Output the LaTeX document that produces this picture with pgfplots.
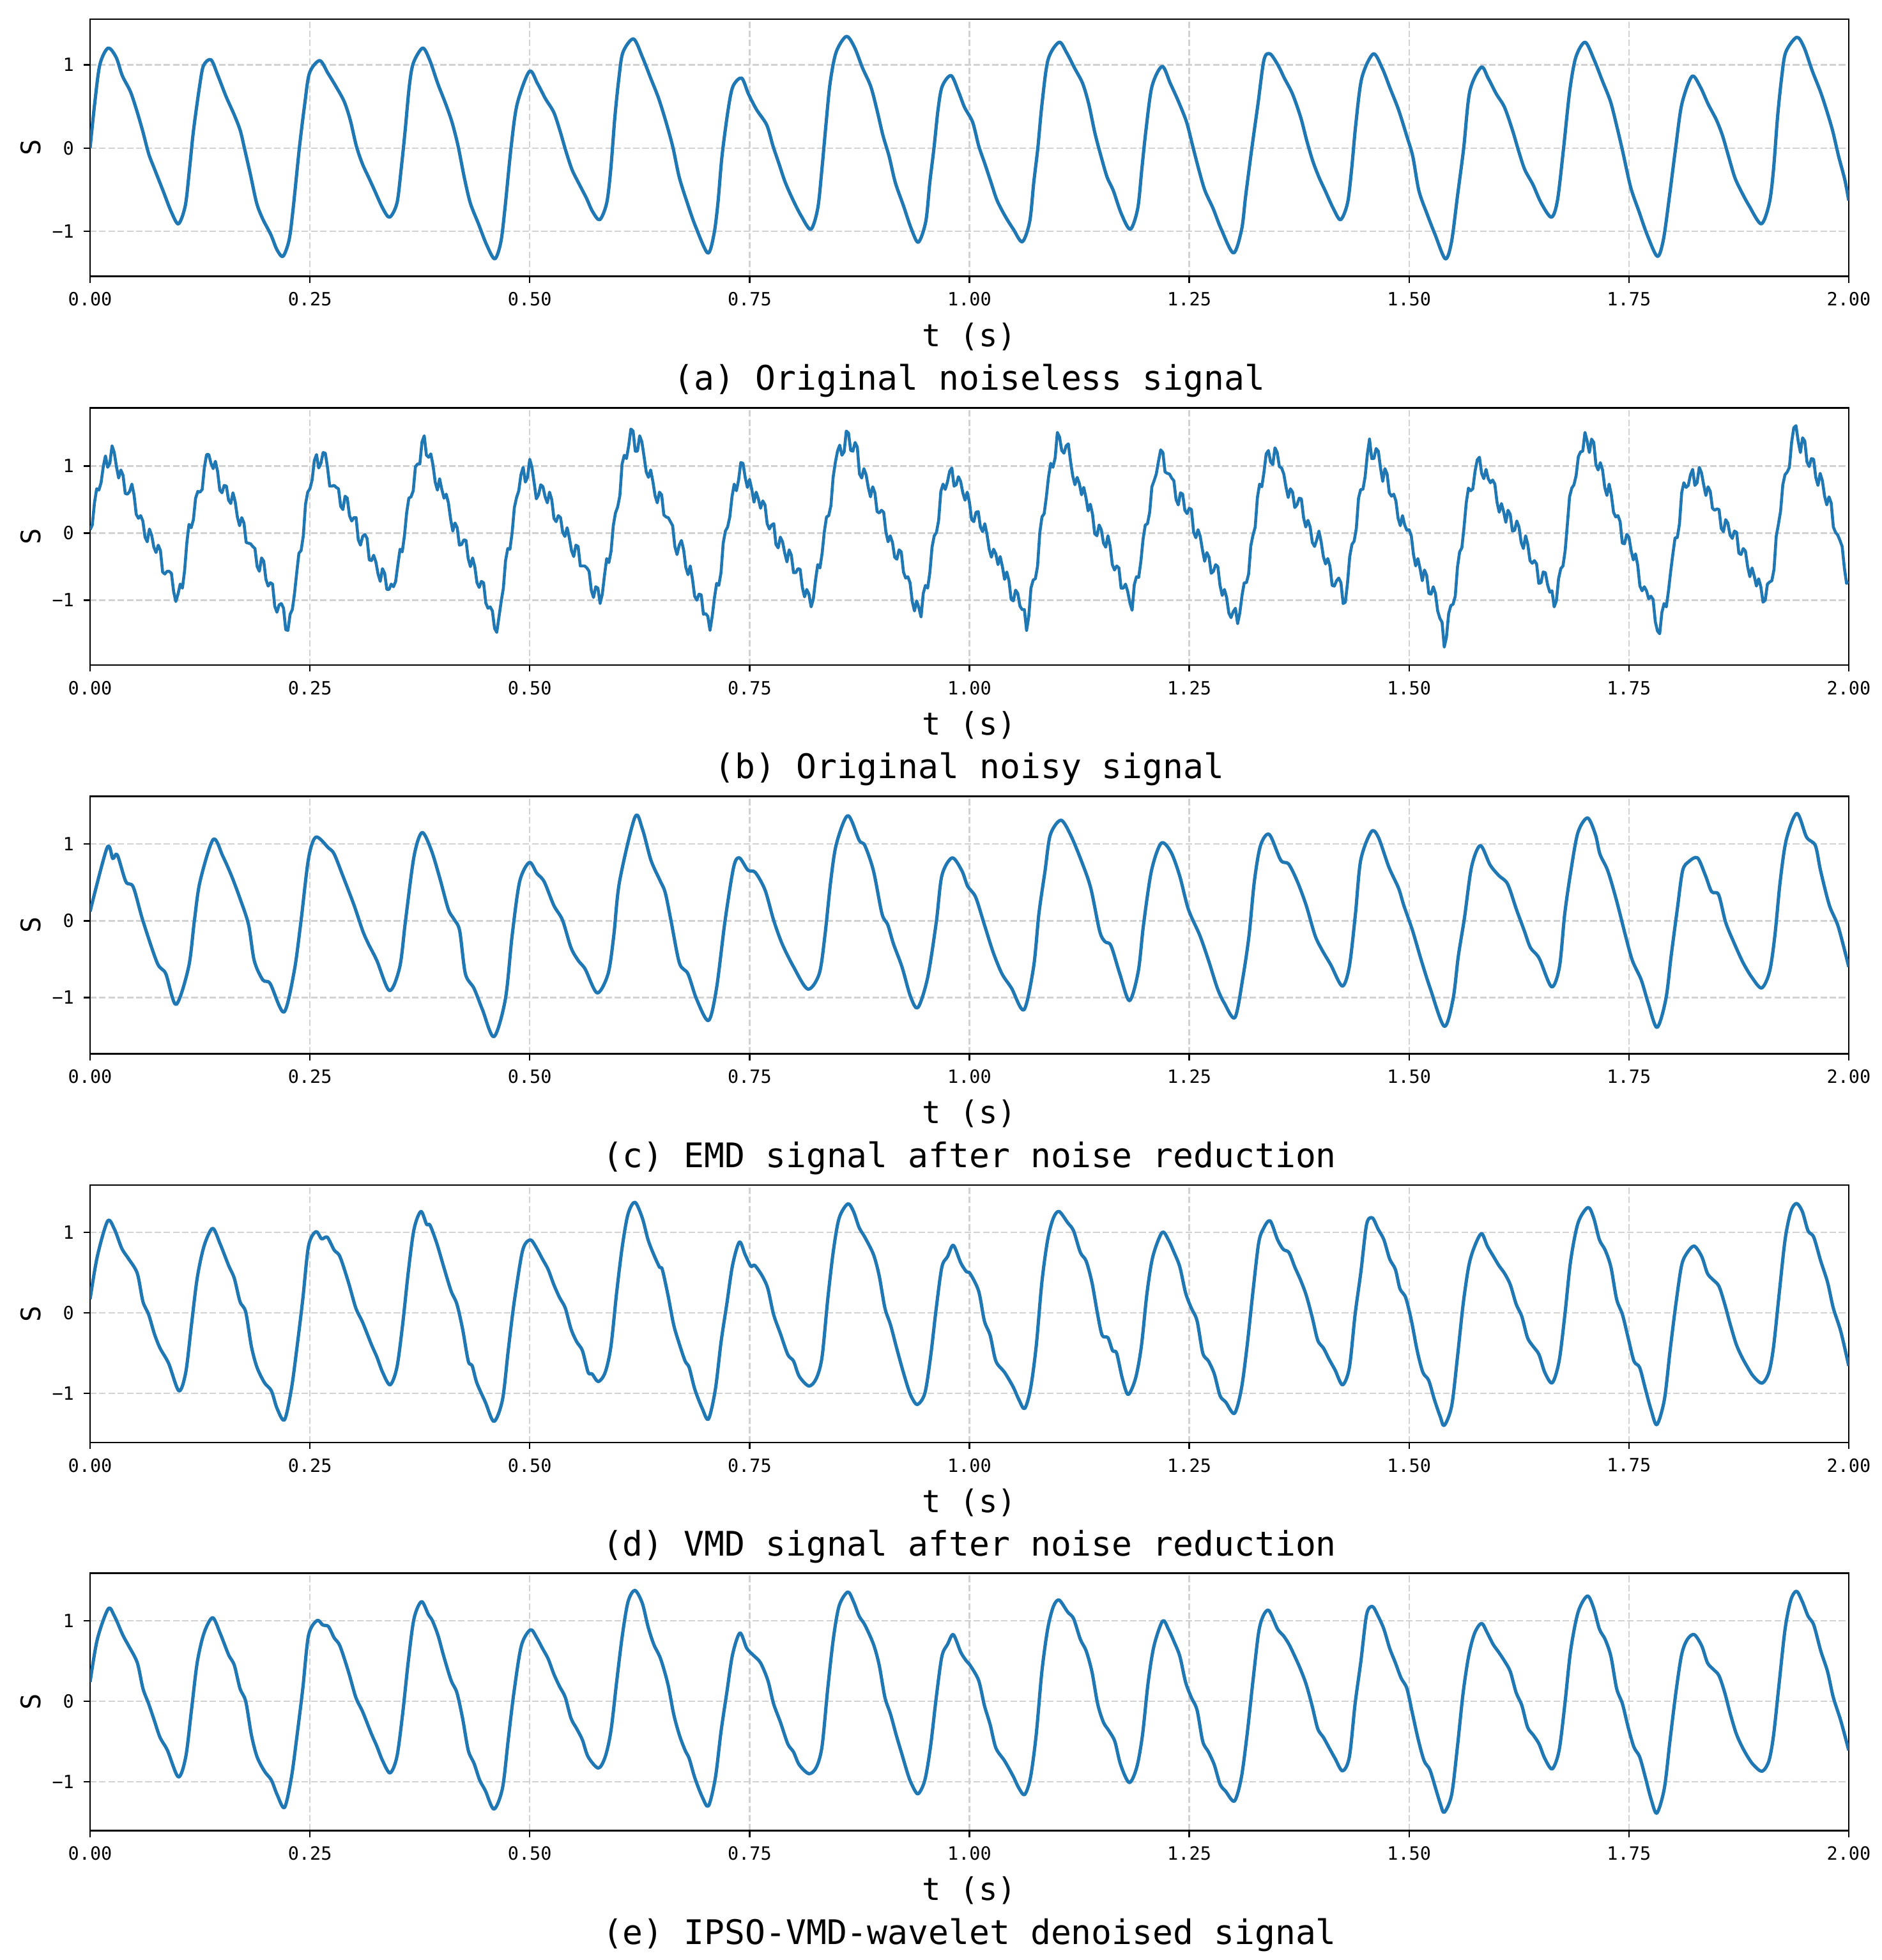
\documentclass[border=0pt]{standalone}
\usepackage{fontspec}
\setmainfont{DejaVu Sans Mono}
\usepackage{pgfplots}
\pgfplotsset{compat=1.18}
\definecolor{tabblue}{HTML}{1F77B4}
\newcommand\tickfont{\fontsize{10.5}{12}\selectfont}
\newcommand\labfont{\fontsize{18}{21}\selectfont}
\newcommand\capfont{\fontsize{19.5}{22}\selectfont}
\newcommand\ylabfont{\fontsize{15.5}{18}\selectfont}
\pgfplotsset{
  panel/.style={
    anchor=north west,
    scale only axis, width=1012.7pt, height=148.2pt,
    xmin=0, xmax=2,
    xtick={0,0.25,0.5,0.75,1,1.25,1.5,1.75,2},
    xticklabels={0.00,0.25,0.50,0.75,1.00,1.25,1.50,1.75,2.00},
    ytick={-1,0,1}, yticklabels={−1,0,1},
    tick align=outside, tick pos=left,
    major tick length=3.7pt,
    every tick/.style={black, line width=0.9pt},
    axis line style={line width=0.9pt},
    tick label style={font=\tickfont},
    xticklabel style={yshift=-2pt},
    yticklabel style={xshift=-2pt},
    grid=major,
    grid style={gray!35, line width=0.9pt, dash pattern=on 3.7pt off 1.6pt},
    clip mode=individual,
  },
  sig/.style={tabblue, line width=1.9pt, line join=round},
}
\newcommand\panellabels[1]{%
  \node[font=\labfont] at ([yshift=-34.6pt]rel axis cs:0.5,0) {t (s)};
  \node[font=\capfont] at ([yshift=-60pt]rel axis cs:0.5,0) {#1};
  \node[font=\ylabfont, rotate=90] at ([xshift=-34.2pt]rel axis cs:0,0.5) {S};
}
\begin{document}
\begin{tikzpicture}
\path[use as bounding box] (0,0) rectangle (1083.7pt,-1128.6pt);
% (a)
\begin{axis}[panel, at={(51.87pt,-10.96pt)}, ymin=-1.541, ymax=1.549]
\addplot[sig, smooth, tension=0.5] coordinates {
(0,0) (0.0051,0.52) (0.0111,1.0) (0.0204,1.2) (0.0296,1.09) (0.0366,0.87) (0.0458,0.68) (0.0528,0.46) (0.0597,0.21) (0.0667,-0.07) (0.0736,-0.26) (0.0829,-0.51) (0.0921,-0.76) (0.1005,-0.91)
(0.1083,-0.69) (0.113,-0.26) (0.1176,0.21) (0.1245,0.74) (0.129,0.99) (0.1375,1.06) (0.1454,0.87) (0.1546,0.62) (0.1639,0.4) (0.1708,0.21) (0.1755,0.0) (0.1824,-0.32) (0.1894,-0.66) (0.1963,-0.85) (0.2056,-1.04) (0.2125,-1.22) (0.2194,-1.30)
(0.2264,-1.1) (0.231,-0.72) (0.238,0) (0.244,0.52) (0.2495,0.9) (0.2611,1.05) (0.2704,0.9) (0.2796,0.74) (0.2889,0.56) (0.2958,0.34) (0.3028,0.025) (0.3097,-0.19) (0.3167,-0.35) (0.3236,-0.51) (0.3329,-0.725) (0.3407,-0.83)
(0.349,-0.66) (0.3537,-0.26) (0.3583,0.21) (0.363,0.74) (0.3676,1.02) (0.3782,1.2) (0.3861,1.06) (0.3954,0.775) (0.4046,0.525) (0.4116,0.31) (0.4185,0.025) (0.4255,-0.35) (0.4324,-0.66) (0.4417,-0.91) (0.4509,-1.16) (0.4602,-1.33)
(0.4671,-1.13) (0.4718,-0.725) (0.4787,0) (0.4856,0.525) (0.4995,0.92) (0.5088,0.775) (0.518,0.59) (0.5273,0.43) (0.5343,0.21) (0.5412,-0.04) (0.5481,-0.26) (0.5551,-0.41) (0.5644,-0.6) (0.5713,-0.76) (0.5796,-0.86)
(0.5875,-0.66) (0.5921,-0.26) (0.5968,0.37) (0.6014,0.84) (0.606,1.15) (0.618,1.31)
(0.6282,1.09) (0.6375,0.84) (0.6468,0.59) (0.656,0.275) (0.663,0) (0.67,-0.35) (0.6792,-0.66) (0.6885,-0.94) (0.7024,-1.26)
(0.7094,-1.04) (0.714,-0.66) (0.7186,-0.1) (0.7256,0.46) (0.7311,0.74) (0.7409,0.84) (0.7487,0.65) (0.758,0.46) (0.7696,0.275) (0.7766,0.025) (0.7835,-0.19) (0.7905,-0.41) (0.7997,-0.63) (0.809,-0.82) (0.8197,-0.975)
(0.8275,-0.725) (0.8322,-0.26) (0.8368,0.275) (0.8415,0.775) (0.8484,1.15) (0.86,1.34) (0.8693,1.21) (0.8785,0.96) (0.8878,0.74) (0.8948,0.46) (0.9017,0.15) (0.9087,-0.1) (0.9156,-0.41) (0.9249,-0.69) (0.9341,-0.975) (0.942,-1.13)
(0.9504,-0.88) (0.955,-0.41) (0.9597,0) (0.9643,0.46) (0.969,0.74) (0.9791,0.87) (0.9875,0.68) (0.9944,0.49) (1.0037,0.31) (1.0106,0.025) (1.0176,-0.19) (1.0245,-0.41) (1.0315,-0.63) (1.0408,-0.82) (1.05,-0.975) (1.0602,-1.125)
(1.0686,-0.88) (1.0732,-0.41) (1.0778,0) (1.0825,0.525) (1.0894,1.06) (1.1019,1.27) (1.1103,1.15) (1.1196,0.96) (1.1288,0.775) (1.1358,0.525) (1.1427,0.18) (1.1497,-0.1) (1.1566,-0.35) (1.1636,-0.51) (1.1728,-0.79) (1.183,-0.975)
(1.1914,-0.725) (1.196,-0.26) (1.2007,0.21) (1.2076,0.74) (1.2192,0.98) (1.2285,0.775) (1.2377,0.56) (1.247,0.31) (1.2539,0.025) (1.2609,-0.26) (1.2678,-0.51) (1.2771,-0.725) (1.2864,-0.975) (1.3003,-1.26)
(1.3096,-0.975) (1.3142,-0.57) (1.3212,0) (1.3281,0.525) (1.335,1.06)
(1.342,1.13) (1.3512,0.99) (1.3581,0.84) (1.3674,0.65) (1.3767,0.37) (1.3836,0.09) (1.3906,-0.16) (1.3975,-0.35) (1.4045,-0.51) (1.4138,-0.725) (1.4221,-0.86)
(1.43,-0.66) (1.4346,-0.26) (1.4393,0.275) (1.4462,0.84) (1.4592,1.13) (1.4694,0.96) (1.4787,0.71) (1.488,0.46) (1.4972,0.15) (1.5042,-0.1) (1.5111,-0.51) (1.5204,-0.79) (1.5296,-1.04) (1.5412,-1.33)
(1.5482,-1.13) (1.5551,-0.57) (1.5621,0) (1.569,0.68) (1.582,0.97) (1.5899,0.84) (1.5992,0.65) (1.6085,0.49) (1.6177,0.21) (1.6247,-0.04) (1.6316,-0.26) (1.6409,-0.44) (1.6502,-0.66) (1.6618,-0.83)
(1.6687,-0.63) (1.6757,0) (1.6826,0.68) (1.6896,1.09) (1.7002,1.27) (1.7104,1.06) (1.7197,0.81) (1.729,0.56) (1.7359,0.275) (1.7429,-0.04) (1.7521,-0.475) (1.7614,-0.76) (1.7707,-1.04) (1.7823,-1.30)
(1.7892,-1.1) (1.7962,-0.57) (1.8031,0) (1.8101,0.525) (1.8216,0.86) (1.8309,0.74) (1.8402,0.525) (1.8494,0.34) (1.8564,0.15) (1.8633,-0.1) (1.8703,-0.35) (1.8773,-0.51) (1.8865,-0.69) (1.9005,-0.91)
(1.9097,-0.66) (1.9144,-0.26) (1.919,0.37) (1.9236,0.84) (1.9283,1.15) (1.9408,1.33) (1.9491,1.21) (1.9584,0.93) (1.9677,0.68) (1.9746,0.46) (1.9816,0.21) (1.9885,-0.1) (1.9955,-0.38) (2.0,-0.63)
};
\panellabels{(a) Original noiseless signal}
\end{axis}
% (b)
\begin{axis}[panel, at={(51.87pt,-234.8pt)}, ymin=-1.968, ymax=1.867]
\addplot[sig, line width=1.7pt] coordinates {
(0.000,0.05) (0.0025,0.12) (0.005,0.45) (0.0075,0.66) (0.010,0.64) (0.0125,0.75) (0.015,0.99) (0.0175,1.15) (0.020,0.98) (0.0225,1.04) (0.025,1.30) (0.0275,1.20) (0.030,0.99) (0.0325,0.82) (0.035,0.94) (0.0375,0.86) (0.040,0.59) (0.0425,0.58) (0.045,0.62) (0.0475,0.73) (0.050,0.57) (0.0525,0.28) (0.055,0.22) (0.0575,0.26) (0.060,0.18) (0.0625,-0.06) (0.065,-0.13) (0.0675,0.06) (0.070,-0.03) (0.0725,-0.21) (0.075,-0.29) (0.0775,-0.18) (0.080,-0.26) (0.0825,-0.58) (0.085,-0.61) (0.0875,-0.57) (0.090,-0.57) (0.0925,-0.60) (0.095,-0.87) (0.0975,-1.02) (0.100,-0.91)
(0.1025,-0.76) (0.105,-0.82) (0.1075,-0.56) (0.110,-0.15) (0.1125,0.13) (0.115,0.08) (0.1175,0.20) (0.120,0.52) (0.1225,0.62) (0.125,0.61) (0.1275,0.65) (0.130,0.98) (0.1325,1.17) (0.135,1.17) (0.1375,1.04) (0.140,0.96)
(0.1425,1.07) (0.145,0.92) (0.1475,0.64) (0.150,0.60) (0.1525,0.71) (0.155,0.70) (0.1575,0.49) (0.160,0.44) (0.1625,0.60) (0.165,0.47) (0.1675,0.24) (0.170,0.11) (0.1725,0.23) (0.175,0.15) (0.1775,-0.14) (0.180,-0.15) (0.1825,-0.16) (0.185,-0.20) (0.1875,-0.23) (0.190,-0.50) (0.1925,-0.57) (0.195,-0.37) (0.1975,-0.42) (0.200,-0.69) (0.2025,-0.79) (0.205,-0.74) (0.2075,-0.76) (0.210,-1.09) (0.2125,-1.18) (0.215,-1.07) (0.2175,-1.05) (0.220,-1.12) (0.2225,-1.44) (0.225,-1.45)
(0.2275,-1.21) (0.230,-1.14) (0.2325,-0.90) (0.235,-0.59) (0.2375,-0.30) (0.240,-0.26) (0.2425,-0.04) (0.245,0.43) (0.2475,0.61) (0.250,0.66) (0.2525,0.79) (0.255,1.08) (0.2575,1.17) (0.260,0.97) (0.2625,1.04) (0.265,1.20)
(0.2675,1.19) (0.270,0.98) (0.2725,0.70) (0.275,0.70) (0.2775,0.71) (0.280,0.68) (0.2825,0.66) (0.285,0.40) (0.2875,0.35) (0.290,0.55) (0.2925,0.52) (0.295,0.26) (0.2975,0.18) (0.300,0.23) (0.3025,0.23) (0.305,-0.10) (0.3075,-0.18) (0.310,-0.05) (0.3125,-0.02) (0.315,-0.08) (0.3175,-0.40) (0.320,-0.41) (0.3225,-0.33) (0.325,-0.43) (0.3275,-0.61) (0.330,-0.72) (0.3325,-0.53) (0.335,-0.60) (0.3375,-0.84) (0.340,-0.84) (0.3425,-0.76) (0.345,-0.80)
(0.3475,-0.72) (0.350,-0.47) (0.3525,-0.24) (0.355,-0.28) (0.3575,-0.04) (0.360,0.30) (0.3625,0.52) (0.365,0.54) (0.3675,0.63) (0.370,0.99) (0.3725,1.03) (0.375,1.03) (0.3775,1.36) (0.380,1.45) (0.3825,1.16) (0.385,1.13)
(0.3875,1.18) (0.390,1.01) (0.3925,0.76) (0.395,0.64) (0.3975,0.81) (0.400,0.65) (0.4025,0.52) (0.405,0.58) (0.4075,0.45) (0.410,0.21) (0.4125,0.03) (0.415,0.15) (0.4175,0.08) (0.420,-0.18) (0.4225,-0.17) (0.425,-0.10) (0.4275,-0.11) (0.430,-0.38) (0.4325,-0.50) (0.435,-0.37) (0.4375,-0.50) (0.440,-0.74) (0.4425,-0.81) (0.445,-0.72) (0.4475,-0.74) (0.450,-1.04) (0.4525,-1.12) (0.455,-1.10) (0.4575,-1.16) (0.460,-1.42)
(0.4625,-1.48) (0.465,-1.25) (0.4675,-1.02) (0.470,-0.82) (0.4725,-0.41) (0.475,-0.23) (0.4775,-0.24) (0.480,0.01) (0.4825,0.38) (0.485,0.53) (0.4875,0.63) (0.490,0.87) (0.4925,0.98) (0.495,0.76) (0.4975,0.83) (0.500,1.10) (0.5025,0.98) (0.505,0.75)
(0.5075,0.51) (0.510,0.57) (0.5125,0.72) (0.515,0.69) (0.5175,0.54) (0.520,0.45) (0.5225,0.61) (0.525,0.50) (0.5275,0.22) (0.530,0.17) (0.5325,0.26) (0.535,0.23) (0.5375,0.01) (0.540,-0.05) (0.5425,0.08) (0.545,-0.07) (0.5475,-0.26) (0.550,-0.35) (0.5525,-0.18) (0.555,-0.20) (0.5575,-0.49) (0.560,-0.49) (0.5625,-0.49) (0.565,-0.52) (0.5675,-0.57) (0.570,-0.85) (0.5725,-0.96) (0.575,-0.80) (0.5775,-0.82) (0.580,-1.05)
(0.5825,-0.91) (0.585,-0.63) (0.5875,-0.38) (0.590,-0.44) (0.5925,-0.27) (0.595,0.11) (0.5975,0.30) (0.600,0.39) (0.6025,0.56) (0.605,1.03) (0.6075,1.16) (0.610,1.11) (0.6125,1.30) (0.615,1.55) (0.6175,1.52) (0.620,1.22) (0.6225,1.22) (0.625,1.45)
(0.6275,1.36) (0.630,1.14) (0.6325,0.91) (0.635,0.83) (0.6375,0.94) (0.640,0.77) (0.6425,0.56) (0.645,0.45) (0.6475,0.61) (0.650,0.57) (0.6525,0.27) (0.655,0.24) (0.6575,0.23) (0.660,0.17) (0.6625,0.11) (0.665,-0.20) (0.6675,-0.32) (0.670,-0.18) (0.6725,-0.11) (0.675,-0.25) (0.6775,-0.51) (0.680,-0.62) (0.6825,-0.49) (0.685,-0.68) (0.6875,-0.94) (0.690,-1.00) (0.6925,-0.91) (0.695,-0.92) (0.6975,-1.21) (0.700,-1.20) (0.7025,-1.24) (0.705,-1.45)
(0.7075,-1.24) (0.710,-0.97) (0.7125,-0.75) (0.715,-0.78) (0.7175,-0.59) (0.720,-0.15) (0.7225,0.03) (0.725,0.09) (0.7275,0.24) (0.730,0.54) (0.7325,0.73) (0.735,0.63) (0.7375,0.79) (0.740,1.05) (0.7425,1.04) (0.745,0.83)
(0.7475,0.68) (0.750,0.80) (0.7525,0.65) (0.755,0.46) (0.7575,0.61) (0.760,0.51) (0.7625,0.37) (0.765,0.48) (0.7675,0.42) (0.770,0.14) (0.7725,0.06) (0.775,0.12) (0.7775,0.14) (0.780,-0.17) (0.7825,-0.22) (0.785,-0.06) (0.7875,-0.13) (0.790,-0.30) (0.7925,-0.43) (0.795,-0.25) (0.7975,-0.33) (0.800,-0.59) (0.8025,-0.59) (0.805,-0.53) (0.8075,-0.54) (0.810,-0.81) (0.8125,-0.95) (0.815,-0.84) (0.8175,-0.91) (0.820,-1.10)
(0.8225,-0.98) (0.825,-0.70) (0.8275,-0.47) (0.830,-0.52) (0.8325,-0.30) (0.835,0.02) (0.8375,0.24) (0.840,0.26) (0.8425,0.41) (0.845,0.83) (0.8475,1.05) (0.850,1.22) (0.8525,1.31) (0.855,1.16) (0.8575,1.21) (0.860,1.52) (0.8625,1.49) (0.865,1.23) (0.8675,1.22) (0.870,1.35)
(0.8725,1.28) (0.875,0.88) (0.8775,0.82) (0.880,0.96) (0.8825,0.87) (0.885,0.68) (0.8875,0.54) (0.890,0.69) (0.8925,0.60) (0.895,0.32) (0.8975,0.30) (0.900,0.34) (0.9025,0.31) (0.905,0.02) (0.9075,-0.13) (0.910,-0.04) (0.9125,-0.14) (0.915,-0.36) (0.9175,-0.39) (0.920,-0.25) (0.9225,-0.28) (0.925,-0.58) (0.9275,-0.67) (0.930,-0.65) (0.9325,-0.74) (0.935,-1.02) (0.9375,-1.16) (0.940,-1.01) (0.9425,-1.11) (0.945,-1.25)
(0.9475,-0.90) (0.950,-0.78) (0.9525,-0.82) (0.955,-0.59) (0.9575,-0.21) (0.960,-0.04) (0.9625,0.01) (0.965,0.19) (0.9675,0.62) (0.970,0.73) (0.9725,0.65) (0.975,0.76) (0.9775,0.92) (0.980,0.97) (0.9825,0.70) (0.985,0.72)
(0.9875,0.84) (0.990,0.77) (0.9925,0.60) (0.995,0.49) (0.9975,0.61) (1.000,0.46) (1.0025,0.20) (1.005,0.17) (1.0075,0.31) (1.010,0.32) (1.0125,0.09) (1.015,0.02) (1.0175,0.14) (1.020,-0.02) (1.0225,-0.24) (1.025,-0.36) (1.0275,-0.24) (1.030,-0.31) (1.0325,-0.47) (1.035,-0.35) (1.0375,-0.50) (1.040,-0.69) (1.0425,-0.58) (1.045,-0.71) (1.0475,-0.99) (1.050,-1.01) (1.0525,-0.85) (1.055,-0.90) (1.0575,-1.09) (1.060,-1.14) (1.0625,-1.14) (1.065,-1.45)
(1.0675,-1.24) (1.070,-0.82) (1.0725,-0.70) (1.075,-0.68) (1.0775,-0.49) (1.080,0.00) (1.0825,0.24) (1.085,0.29) (1.0875,0.54) (1.090,0.84) (1.0925,1.04) (1.095,0.98) (1.0975,1.12) (1.100,1.50) (1.1025,1.43) (1.105,1.23) (1.1075,1.19) (1.110,1.30)
(1.1125,1.33) (1.115,1.07) (1.1175,0.85) (1.120,0.72) (1.1225,0.83) (1.125,0.74) (1.1275,0.57) (1.130,0.68) (1.1325,0.53) (1.135,0.33) (1.1375,0.43) (1.140,0.28) (1.1425,-0.01) (1.145,-0.04) (1.1475,0.12) (1.150,0.05) (1.1525,-0.15) (1.155,-0.21) (1.1575,-0.04) (1.160,-0.19) (1.1625,-0.47) (1.165,-0.55) (1.1675,-0.49) (1.170,-0.52) (1.1725,-0.82) (1.175,-0.82) (1.1775,-0.76) (1.180,-0.87) (1.1825,-1.04) (1.185,-1.15)
(1.1875,-0.77) (1.190,-0.65) (1.1925,-0.66) (1.195,-0.42) (1.1975,-0.09) (1.200,0.12) (1.2025,0.14) (1.205,0.31) (1.2075,0.69) (1.210,0.78) (1.2125,0.88) (1.215,1.07) (1.2175,1.24) (1.220,1.20) (1.2225,0.91) (1.225,0.89)
(1.2275,0.88) (1.230,0.82) (1.2325,0.78) (1.235,0.50) (1.2375,0.42) (1.240,0.60) (1.2425,0.58) (1.245,0.34) (1.2475,0.29) (1.250,0.37) (1.2525,0.35) (1.255,0.01) (1.2575,-0.07) (1.260,0.05) (1.2625,-0.05) (1.265,-0.25) (1.2675,-0.42) (1.270,-0.29) (1.2725,-0.36) (1.275,-0.60) (1.2775,-0.57) (1.280,-0.47) (1.2825,-0.50) (1.285,-0.78) (1.2875,-0.93) (1.290,-0.84) (1.2925,-0.96) (1.295,-1.19) (1.2975,-1.26) (1.300,-1.17) (1.3025,-1.12) (1.305,-1.35)
(1.3075,-1.19) (1.310,-0.93) (1.3125,-0.74) (1.315,-0.74) (1.3175,-0.61) (1.320,-0.19) (1.3225,-0.03) (1.325,0.09) (1.3275,0.53) (1.330,0.73) (1.3325,0.69) (1.335,0.91) (1.3375,1.18) (1.340,1.23) (1.3425,1.06) (1.345,1.02) (1.3475,1.27) (1.350,1.20)
(1.3525,0.99) (1.355,0.97) (1.3575,0.88) (1.360,0.69) (1.3625,0.53) (1.365,0.66) (1.3675,0.61) (1.370,0.38) (1.3725,0.42) (1.375,0.52) (1.3775,0.51) (1.380,0.23) (1.3825,0.09) (1.385,0.19) (1.3875,0.09) (1.390,-0.14) (1.3925,-0.20) (1.395,-0.10) (1.3975,0.03) (1.400,-0.13) (1.4025,-0.35) (1.405,-0.46) (1.4075,-0.38) (1.410,-0.49) (1.4125,-0.78) (1.415,-0.79) (1.4175,-0.71) (1.420,-0.67) (1.4225,-0.74) (1.425,-1.05)
(1.4275,-1.03) (1.430,-0.74) (1.4325,-0.35) (1.435,-0.17) (1.4375,-0.12) (1.440,0.07) (1.4425,0.52) (1.445,0.65) (1.4475,0.65) (1.450,0.84) (1.4525,1.17) (1.455,1.40) (1.4575,1.11) (1.460,1.11) (1.4625,1.26) (1.465,1.22)
(1.4675,0.97) (1.470,0.77) (1.4725,0.96) (1.475,0.88) (1.4775,0.60) (1.480,0.55) (1.4825,0.58) (1.485,0.48) (1.4875,0.22) (1.490,0.11) (1.4925,0.26) (1.495,0.12) (1.4975,0.04) (1.500,0.05) (1.5025,-0.04) (1.505,-0.32) (1.5075,-0.49) (1.510,-0.38) (1.5125,-0.53) (1.515,-0.71) (1.5175,-0.55) (1.520,-0.63) (1.5225,-0.90) (1.525,-0.91) (1.5275,-0.80) (1.530,-0.90) (1.5325,-1.16) (1.535,-1.27) (1.5375,-1.33) (1.540,-1.70) (1.5425,-1.55) (1.545,-1.20)
(1.5475,-1.08) (1.550,-1.06) (1.5525,-0.94) (1.555,-0.51) (1.5575,-0.28) (1.560,-0.22) (1.5625,0.09) (1.565,0.45) (1.5675,0.67) (1.570,0.63) (1.5725,0.66) (1.575,0.92) (1.5775,1.09) (1.580,1.13) (1.5825,0.89) (1.585,0.81)
(1.5875,0.95) (1.590,0.81) (1.5925,0.75) (1.595,0.79) (1.5975,0.73) (1.600,0.46) (1.6025,0.31) (1.605,0.44) (1.6075,0.32) (1.610,0.16) (1.6125,0.34) (1.615,0.28) (1.6175,0.03) (1.620,0.04) (1.6225,0.18) (1.625,0.09) (1.6275,-0.14) (1.630,-0.23) (1.6325,-0.04) (1.635,-0.17) (1.6375,-0.41) (1.640,-0.45) (1.6425,-0.41) (1.645,-0.46) (1.6475,-0.75) (1.650,-0.74) (1.6525,-0.58) (1.655,-0.59) (1.6575,-0.77) (1.660,-0.88) (1.6625,-0.86) (1.665,-1.10)
(1.6675,-1.01) (1.670,-0.68) (1.6725,-0.53) (1.675,-0.49) (1.6775,-0.26) (1.680,0.13) (1.6825,0.54) (1.685,0.67) (1.6875,0.72) (1.690,0.86) (1.6925,1.14) (1.695,1.21) (1.6975,1.22) (1.700,1.50) (1.7025,1.37) (1.705,1.20) (1.7075,1.40) (1.710,1.35)
(1.7125,1.02) (1.715,0.94) (1.7175,1.05) (1.720,0.94) (1.7225,0.68) (1.725,0.56) (1.7275,0.73) (1.730,0.57) (1.7325,0.31) (1.735,0.24) (1.7375,0.26) (1.740,0.17) (1.7425,-0.15) (1.745,-0.16) (1.7475,-0.02) (1.750,-0.06) (1.7525,-0.26) (1.755,-0.40) (1.7575,-0.31) (1.760,-0.48) (1.7625,-0.79) (1.765,-0.86) (1.7675,-0.80) (1.770,-0.86) (1.7725,-0.98) (1.775,-0.94) (1.7775,-0.99) (1.780,-1.32) (1.7825,-1.46) (1.785,-1.50)
(1.7875,-1.18) (1.790,-1.05) (1.7925,-1.10) (1.795,-0.86) (1.7975,-0.57) (1.800,-0.31) (1.8025,-0.07) (1.805,-0.07) (1.8075,0.14) (1.810,0.60) (1.8125,0.75) (1.815,0.68) (1.8175,0.71) (1.820,0.87) (1.8225,0.95) (1.825,0.71) (1.8275,0.75) (1.830,0.98)
(1.8325,0.90) (1.835,0.72) (1.8375,0.56) (1.840,0.69) (1.8425,0.62) (1.845,0.37) (1.8475,0.34) (1.850,0.36) (1.8525,0.35) (1.855,0.07) (1.8575,0.02) (1.860,0.20) (1.8625,0.15) (1.865,-0.03) (1.8675,-0.08) (1.870,0.03) (1.8725,0.01) (1.875,-0.30) (1.8775,-0.32) (1.880,-0.23) (1.8825,-0.27) (1.885,-0.50) (1.8875,-0.65) (1.890,-0.52) (1.8925,-0.64) (1.895,-0.79) (1.8975,-0.68) (1.900,-0.80) (1.9025,-1.03) (1.905,-1.00)
(1.9075,-0.76) (1.910,-0.73) (1.9125,-0.71) (1.915,-0.54) (1.9175,-0.05) (1.920,0.13) (1.9225,0.33) (1.925,0.72) (1.9275,0.87) (1.930,0.91) (1.9325,0.98) (1.935,1.35) (1.9375,1.57) (1.940,1.60) (1.9425,1.37) (1.945,1.20) (1.9475,1.42) (1.950,1.37)
(1.9525,1.06) (1.955,0.99) (1.9575,1.11) (1.960,1.10) (1.9625,0.83) (1.965,0.71) (1.9675,0.89) (1.970,0.78) (1.9725,0.55) (1.975,0.42) (1.9775,0.54) (1.980,0.45) (1.9825,0.09) (1.985,0.01) (1.9875,-0.03) (1.990,-0.11) (1.9925,-0.20) (1.995,-0.52) (1.9975,-0.75) (2.000,-0.72)
};
\panellabels{(b) Original noisy signal}
\end{axis}
% (c)
\begin{axis}[panel, at={(51.87pt,-458.6pt)}, ymin=-1.733, ymax=1.62]
\addplot[sig, smooth, tension=0.5] coordinates {
(0,0.12) (0.0193,0.95) (0.0258,0.81) (0.0309,0.86) (0.0407,0.51) (0.0491,0.44) (0.0601,0.0) (0.0764,-0.55) (0.0861,-0.69) (0.0978,-1.09)
(0.1121,-0.6) (0.1186,0) (0.125,0.51) (0.1400,1.06) (0.151,0.84) (0.1607,0.59) (0.1705,0.29) (0.1802,-0.05) (0.1867,-0.52) (0.1964,-0.77) (0.2049,-0.82) (0.2204,-1.19)
(0.2321,-0.66) (0.2399,0) (0.2484,0.81) (0.2568,1.09) (0.2711,0.95) (0.2776,0.87) (0.2873,0.59) (0.3003,0.2) (0.31,-0.13) (0.3165,-0.3) (0.3262,-0.52) (0.3405,-0.91)
(0.3522,-0.6) (0.3587,0) (0.3684,0.84) (0.3775,1.15) (0.3879,0.925) (0.3976,0.56) (0.4074,0.15) (0.4139,0.02) (0.4203,-0.13) (0.4268,-0.69) (0.4366,-0.88) (0.4463,-1.16) (0.4593,-1.51)
(0.4723,-1.02) (0.4800,-0.19) (0.4885,0.51) (0.4995,0.76) (0.508,0.62) (0.5164,0.51) (0.5274,0.2) (0.5372,0.01) (0.5469,-0.35) (0.5553,-0.52) (0.5631,-0.63) (0.5767,-0.94)
(0.5891,-0.69) (0.5956,-0.19) (0.6021,0.51) (0.6196,1.35) (0.628,1.2) (0.6378,0.79) (0.6475,0.54) (0.654,0.37) (0.6605,0.01) (0.6702,-0.55) (0.6799,-0.69) (0.6897,-1.02) (0.7033,-1.30)
(0.7124,-0.88) (0.7221,0) (0.7319,0.7) (0.7384,0.82) (0.7481,0.66) (0.7565,0.63) (0.7676,0.4) (0.7773,0.01) (0.787,-0.3) (0.8,-0.6) (0.8162,-0.89)
(0.8292,-0.69) (0.8357,-0.19) (0.8422,0.51) (0.8487,1.0) (0.8617,1.37) (0.8746,1.05) (0.8811,0.98) (0.8909,0.65) (0.9006,0.09) (0.9071,-0.05) (0.9136,-0.3) (0.9233,-0.6) (0.9331,-0.99) (0.9415,-1.13)
(0.9525,-0.74) (0.9623,-0.02) (0.9687,0.59) (0.9804,0.82) (0.9915,0.65) (0.998,0.45)
(1.007,0.31) (1.017,-0.05) (1.027,-0.41) (1.037,-0.69) (1.048,-0.88) (1.062,-1.16)
(1.073,-0.6) (1.079,0.09) (1.086,0.65) (1.092,1.12) (1.104,1.31) (1.115,1.12) (1.128,0.76) (1.138,0.425) (1.148,-0.13) (1.154,-0.27) (1.161,-0.325) (1.171,-0.69) (1.182,-1.04)
(1.192,-0.66) (1.198,-0.05) (1.207,0.65) (1.218,1.01) (1.229,0.9) (1.239,0.59) (1.249,0.15) (1.262,-0.19) (1.272,-0.52) (1.282,-0.88) (1.290,-1.075) (1.302,-1.26)
(1.311,-0.74) (1.318,-0.19) (1.324,0.51) (1.331,0.98) (1.341,1.125) (1.354,0.79) (1.363,0.74) (1.373,0.51) (1.383,0.2) (1.393,-0.19) (1.401,-0.38) (1.411,-0.575) (1.424,-0.85)
(1.432,-0.6) (1.439,0.09) (1.445,0.79) (1.457,1.16) (1.465,1.09) (1.477,0.7) (1.488,0.425) (1.494,0.2) (1.504,-0.13) (1.514,-0.52) (1.524,-0.88) (1.540,-1.375)
(1.550,-1.02) (1.556,-0.46) (1.563,0.04) (1.571,0.7) (1.581,0.98) (1.592,0.73) (1.602,0.59) (1.612,0.48) (1.622,0.15) (1.631,-0.13) (1.638,-0.35) (1.648,-0.49) (1.662,-0.86)
(1.671,-0.6) (1.677,0.09) (1.684,0.65) (1.692,1.15) (1.703,1.34) (1.712,1.12) (1.717,0.87) (1.726,0.65) (1.736,0.26) (1.746,-0.19) (1.754,-0.52) (1.764,-0.77) (1.772,-1.075) (1.782,-1.39)
(1.792,-1.02) (1.798,-0.46) (1.805,0.15) (1.811,0.65) (1.818,0.77) (1.828,0.82) (1.837,0.59) (1.844,0.38) (1.852,0.34) (1.860,-0.02) (1.870,-0.3) (1.880,-0.55) (1.890,-0.74) (1.901,-0.875)
(1.910,-0.66) (1.916,-0.19) (1.922,0.51) (1.929,1.06) (1.941,1.40) (1.952,1.09) (1.962,0.98) (1.968,0.65) (1.978,0.2) (1.988,-0.075) (2.0,-0.6)
};
\panellabels{(c) EMD signal after noise reduction}
\end{axis}
% (d)
\begin{axis}[panel, at={(51.87pt,-682.4pt)}, ymin=-1.612, ymax=1.588]
\addplot[sig, smooth, tension=0.5] coordinates {
(0,0.17) (0.0082,0.70) (0.0199,1.14) (0.0277,1.04) (0.0361,0.80) (0.0439,0.67) (0.0537,0.49) (0.0601,0.14) (0.0666,-0.02) (0.0731,-0.26) (0.0796,-0.44) (0.0894,-0.63) (0.101,-0.97)
(0.1088,-0.74) (0.1153,-0.15) (0.1218,0.43) (0.1296,0.83) (0.1393,1.05) (0.1478,0.86) (0.1575,0.59) (0.164,0.43) (0.1705,0.14) (0.177,0.01) (0.1835,-0.42) (0.1899,-0.68) (0.1984,-0.87) (0.2062,-0.97) (0.2127,-1.19) (0.2211,-1.33)
(0.2289,-0.95) (0.2354,-0.42) (0.2419,0.17) (0.2484,0.83) (0.2568,1.01) (0.2633,0.92) (0.2698,0.94) (0.2776,0.78) (0.2841,0.70) (0.2938,0.38) (0.3022,0.06) (0.31,-0.12) (0.3198,-0.39) (0.3262,-0.55) (0.3327,-0.74) (0.3412,-0.895)
(0.3489,-0.68) (0.3554,-0.15) (0.3619,0.51) (0.3684,1.04) (0.3762,1.26) (0.3827,1.10) (0.3866,1.09) (0.3944,0.86) (0.4022,0.57) (0.4106,0.27) (0.4171,0.11) (0.4236,-0.20) (0.4301,-0.60) (0.4346,-0.66) (0.4398,-0.87) (0.4495,-1.11) (0.4593,-1.35)
(0.469,-1.08) (0.4755,-0.47) (0.482,0.11) (0.4904,0.70) (0.495,0.86) (0.5015,0.905) (0.508,0.80) (0.5144,0.67) (0.5209,0.54) (0.5274,0.35) (0.5339,0.19) (0.5404,0.06) (0.5469,-0.20) (0.5534,-0.36) (0.5599,-0.47) (0.5664,-0.74) (0.5709,-0.76) (0.578,-0.855)
(0.5858,-0.74) (0.5923,-0.42) (0.5988,0.25) (0.6053,0.83) (0.6118,1.23) (0.6196,1.375) (0.628,1.18) (0.6345,0.91) (0.641,0.725) (0.6475,0.57) (0.6507,0.54) (0.6572,0.22) (0.6637,-0.15) (0.6702,-0.39) (0.6767,-0.60) (0.6813,-0.68) (0.6877,-0.95) (0.6962,-1.19) (0.7033,-1.32)
(0.7111,-0.95) (0.7176,-0.36) (0.7241,0.11) (0.7306,0.59) (0.7384,0.88) (0.7449,0.725) (0.7514,0.58) (0.7559,0.59) (0.7643,0.46) (0.7708,0.30) (0.7773,-0.02) (0.7851,-0.26) (0.7935,-0.52) (0.8,-0.60) (0.8065,-0.79) (0.8175,-0.91)
(0.8259,-0.815) (0.8324,-0.55) (0.8389,0.17) (0.8454,0.78) (0.8519,1.18) (0.8617,1.355) (0.8682,1.26) (0.8746,1.06) (0.8811,0.94) (0.8909,0.725) (0.8974,0.46) (0.9039,0.06) (0.9103,-0.15) (0.9168,-0.42) (0.9233,-0.68) (0.9298,-0.92) (0.9343,-1.05) (0.9408,-1.14)
(0.9493,-1.0) (0.9558,-0.55) (0.9623,0.06) (0.9687,0.57) (0.9752,0.70) (0.9817,0.84) (0.9902,0.62) (0.9967,0.51)
(1.0007,0.49) (1.0105,0.27) (1.017,-0.10) (1.0236,-0.28) (1.0301,-0.60) (1.04,-0.74) (1.0497,-0.92) (1.0563,-1.08) (1.0628,-1.19)
(1.0694,-0.95) (1.0759,-0.42) (1.0824,0.38) (1.089,0.91) (1.0955,1.18) (1.102,1.26) (1.1118,1.12) (1.1184,1.02) (1.1262,0.75) (1.1327,0.645) (1.1393,0.38) (1.1458,-0.02) (1.151,-0.28) (1.1576,-0.31) (1.1628,-0.47) (1.1674,-0.50) (1.1739,-0.815) (1.1805,-1.015)
(1.1889,-0.815) (1.1955,-0.42) (1.202,0.25) (1.2086,0.70) (1.2191,1.00) (1.2262,0.91) (1.2328,0.75) (1.2393,0.57) (1.2458,0.25) (1.2523,0.06) (1.2589,-0.10) (1.2654,-0.50) (1.2719,-0.60) (1.2785,-0.76) (1.285,-1.03) (1.2915,-1.11) (1.3014,-1.25)
(1.3092,-0.95) (1.3157,-0.42) (1.3223,0.25) (1.3288,0.86) (1.334,1.04) (1.3419,1.145) (1.3504,0.91) (1.3569,0.79) (1.3634,0.75) (1.37,0.57) (1.3765,0.41) (1.383,0.22) (1.3896,-0.045) (1.3961,-0.34) (1.4027,-0.44) (1.4092,-0.58) (1.4158,-0.71) (1.4243,-0.895)
(1.4321,-0.68) (1.4386,-0.02) (1.4452,0.51) (1.4517,1.10) (1.4583,1.18) (1.4648,1.04) (1.4713,0.91) (1.4779,0.67) (1.4844,0.54) (1.4896,0.30) (1.4961,0.19) (1.5027,-0.10) (1.5092,-0.47) (1.5157,-0.74) (1.5223,-0.84) (1.5288,-1.08) (1.5354,-1.29) (1.54,-1.40)
(1.5484,-1.16) (1.555,-0.55) (1.5615,0.11) (1.568,0.59) (1.5746,0.83) (1.5824,0.985) (1.589,0.83) (1.5955,0.71) (1.602,0.59) (1.6086,0.49) (1.6151,0.35) (1.6217,0.11) (1.6282,-0.045) (1.6347,-0.31) (1.6413,-0.42) (1.6478,-0.52) (1.6543,-0.74) (1.6628,-0.87)
(1.6706,-0.60) (1.6772,-0.02) (1.6837,0.645) (1.6922,1.12) (1.7034,1.31) (1.7099,1.18) (1.7164,0.91) (1.723,0.78) (1.7295,0.57) (1.736,0.17) (1.7426,-0.02) (1.7491,-0.31) (1.7557,-0.60) (1.7622,-0.68) (1.7688,-0.95) (1.7753,-1.21) (1.7818,-1.39)
(1.7903,-1.08) (1.7968,-0.47) (1.8034,0.11) (1.8099,0.59) (1.8164,0.75) (1.8243,0.83) (1.8328,0.70) (1.8393,0.49) (1.8458,0.41) (1.8524,0.33) (1.8589,0.11) (1.8654,-0.15) (1.872,-0.39) (1.8785,-0.55) (1.8851,-0.68) (1.8916,-0.79) (1.9014,-0.875)
(1.9092,-0.74) (1.9145,-0.42) (1.921,0.25) (1.9276,0.91) (1.9341,1.26) (1.9406,1.36) (1.9472,1.26) (1.9537,1.02) (1.9602,0.94) (1.9681,0.645) (1.9759,0.38) (1.9824,0.06) (1.9909,-0.23) (2.0,-0.66)
};
\panellabels{(d) VMD signal after noise reduction}
\end{axis}
% (e)
\begin{axis}[panel, at={(51.87pt,-905.9pt)}, ymin=-1.608, ymax=1.593]
\addplot[sig, smooth, tension=0.5] coordinates {
(0,0.24) (0.0082,0.77) (0.0206,1.15) (0.0277,1.06) (0.0374,0.82) (0.0439,0.69) (0.0537,0.48) (0.0601,0.16) (0.0666,-0.03) (0.0731,-0.24) (0.0796,-0.45) (0.088,-0.61) (0.1004,-0.94)
(0.1088,-0.69) (0.1153,-0.11) (0.1218,0.48) (0.1296,0.85) (0.1393,1.04) (0.1478,0.85) (0.1575,0.58) (0.164,0.45) (0.1705,0.16) (0.177,0) (0.1835,-0.42) (0.1899,-0.69) (0.1984,-0.87) (0.2062,-0.98) (0.2127,-1.16) (0.2211,-1.32)
(0.2289,-0.95) (0.2354,-0.42) (0.2419,0.16) (0.2484,0.82) (0.2581,1.005) (0.2646,0.95) (0.2711,0.93) (0.2776,0.79) (0.2841,0.69) (0.2938,0.37) (0.3022,0.05) (0.31,-0.13) (0.3198,-0.40) (0.3262,-0.56) (0.3327,-0.74) (0.3412,-0.89)
(0.3489,-0.69) (0.3554,-0.16) (0.3619,0.50) (0.3684,1.03) (0.3769,1.24) (0.3847,1.08) (0.3892,1.005) (0.3957,0.82) (0.4022,0.56) (0.4106,0.26) (0.4171,0.11) (0.4236,-0.21) (0.4301,-0.61) (0.4366,-0.77) (0.4431,-0.98) (0.4495,-1.11) (0.4593,-1.34)
(0.469,-1.08) (0.4755,-0.48) (0.482,0.11) (0.4904,0.69) (0.5008,0.89) (0.508,0.79) (0.5144,0.66) (0.5209,0.53) (0.5274,0.34) (0.5339,0.185) (0.5404,0.05) (0.5469,-0.21) (0.5534,-0.34) (0.5599,-0.48) (0.5664,-0.69) (0.578,-0.83)
(0.5858,-0.69) (0.5923,-0.37) (0.5988,0.24) (0.6053,0.82) (0.6118,1.24) (0.6196,1.38) (0.628,1.22) (0.6345,0.93) (0.641,0.71) (0.6488,0.53) (0.6572,0.21) (0.6637,-0.16) (0.6702,-0.42) (0.6767,-0.61) (0.6813,-0.71) (0.6877,-0.95) (0.6962,-1.19) (0.7033,-1.30)
(0.7111,-0.95) (0.7176,-0.37) (0.7241,0.11) (0.7306,0.58) (0.739,0.85) (0.7468,0.66) (0.7546,0.57) (0.7624,0.48) (0.7708,0.26) (0.7773,-0.03) (0.7851,-0.26) (0.7935,-0.53) (0.8,-0.63) (0.8065,-0.79) (0.8175,-0.90)
(0.8259,-0.82) (0.8324,-0.56) (0.8389,0.16) (0.8454,0.79) (0.8519,1.19) (0.8617,1.36) (0.8682,1.24) (0.8746,1.06) (0.8811,0.95) (0.8909,0.71) (0.8974,0.45) (0.9039,0.05) (0.9103,-0.16) (0.9168,-0.42) (0.9233,-0.66) (0.9298,-0.90) (0.9343,-1.03) (0.9415,-1.15)
(0.9493,-0.98) (0.9558,-0.56) (0.9623,0.05) (0.9687,0.56) (0.9752,0.71) (0.9817,0.83) (0.9902,0.61) (0.9967,0.50)
(1.0007,0.45) (1.0105,0.26) (1.017,-0.05) (1.0236,-0.29) (1.0301,-0.58) (1.04,-0.74) (1.0497,-0.93) (1.0563,-1.08) (1.0628,-1.16)
(1.0694,-0.95) (1.0759,-0.42) (1.0824,0.37) (1.089,0.90) (1.0955,1.18) (1.102,1.26) (1.1118,1.11) (1.1184,1.03) (1.1262,0.77) (1.1327,0.63) (1.1393,0.37) (1.1458,-0.03) (1.1524,-0.26) (1.1589,-0.37) (1.1654,-0.50) (1.172,-0.79) (1.1818,-1.01)
(1.1903,-0.82) (1.1968,-0.42) (1.2033,0.24) (1.2099,0.69) (1.2197,1.00) (1.2262,0.90) (1.2328,0.74) (1.2393,0.56) (1.2458,0.24) (1.2523,0.05) (1.2589,-0.11) (1.2654,-0.50) (1.2719,-0.63) (1.2785,-0.79) (1.285,-1.03) (1.2915,-1.12) (1.3014,-1.24)
(1.3092,-0.95) (1.3157,-0.42) (1.3223,0.24) (1.3288,0.85) (1.334,1.06) (1.3406,1.13) (1.3504,0.90) (1.3569,0.82) (1.3634,0.71) (1.37,0.56) (1.3765,0.40) (1.383,0.21) (1.3896,-0.05) (1.3961,-0.34) (1.4027,-0.45) (1.4092,-0.58) (1.4158,-0.71) (1.4243,-0.865)
(1.4321,-0.69) (1.4386,-0.03) (1.4452,0.50) (1.4517,1.08) (1.4583,1.18) (1.4648,1.06) (1.4713,0.90) (1.4779,0.66) (1.4844,0.48) (1.4909,0.29) (1.4975,0.16) (1.504,-0.16) (1.5105,-0.48) (1.5171,-0.74) (1.5236,-0.85) (1.5301,-1.08) (1.5354,-1.27) (1.54,-1.38)
(1.5484,-1.16) (1.555,-0.56) (1.5615,0.11) (1.568,0.58) (1.5746,0.85) (1.5824,0.97) (1.589,0.85) (1.5955,0.71) (1.602,0.61) (1.6086,0.50) (1.6151,0.37) (1.6217,0.11) (1.6282,-0.05) (1.6347,-0.32) (1.6413,-0.42) (1.6478,-0.53) (1.6543,-0.71) (1.6628,-0.84)
(1.6706,-0.61) (1.6772,-0.03) (1.6837,0.63) (1.6922,1.11) (1.7027,1.31) (1.7099,1.16) (1.7164,0.90) (1.723,0.77) (1.7295,0.56) (1.736,0.16) (1.7426,-0.03) (1.7491,-0.32) (1.7557,-0.57) (1.7622,-0.69) (1.7688,-0.95) (1.7753,-1.22) (1.7818,-1.39)
(1.7903,-1.08) (1.7968,-0.48) (1.8034,0.11) (1.8099,0.58) (1.8164,0.77) (1.8243,0.83) (1.8328,0.69) (1.8393,0.48) (1.8458,0.40) (1.8524,0.32) (1.8589,0.11) (1.8654,-0.16) (1.872,-0.40) (1.8785,-0.56) (1.8851,-0.69) (1.8916,-0.79) (1.9014,-0.87)
(1.9092,-0.74) (1.9145,-0.42) (1.921,0.24) (1.9276,0.90) (1.9341,1.26) (1.9406,1.37) (1.9472,1.24) (1.9537,1.06) (1.9602,0.95) (1.9681,0.63) (1.9759,0.37) (1.9824,0.05) (1.9909,-0.24) (2.0,-0.61)
};
\panellabels{(e) IPSO-VMD-wavelet denoised signal}
\end{axis}
\end{tikzpicture}
\end{document}
